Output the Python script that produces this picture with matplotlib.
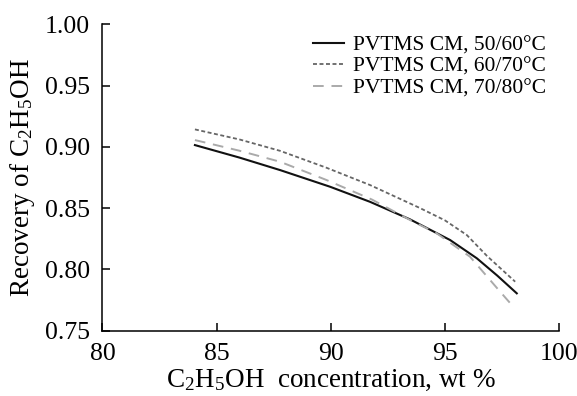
import matplotlib
matplotlib.use("Agg")
import matplotlib.pyplot as plt

plt.rcParams['font.family'] = ['Liberation Serif', 'DejaVu Serif']
plt.rcParams['mathtext.fontset'] = 'custom'
plt.rcParams['mathtext.rm'] = 'Liberation Serif'
plt.rcParams['mathtext.it'] = 'Liberation Serif:italic'

conc_50_60 = [84.05, 86.0, 87.78, 89.97, 91.72, 93.47, 95.23, 96.40, 97.30, 98.15]
rec_50_60 = [0.9014, 0.8912, 0.8810, 0.8674, 0.8551, 0.8408, 0.8239, 0.8090, 0.7948, 0.7804]
conc_60_70 = [84.05, 86.0, 87.78, 89.8, 91.72, 93.91, 95.0, 95.96, 96.84, 98.08]
rec_60_70 = [0.9142, 0.9060, 0.8967, 0.8830, 0.8688, 0.8500, 0.8400, 0.8280, 0.8110, 0.7899]
conc_70_80 = [84.05, 86.0, 87.78, 89.8, 91.8, 93.47, 94.64, 96.10, 97.27, 97.93]
rec_70_80 = [0.9055, 0.8968, 0.8878, 0.8730, 0.8570, 0.8403, 0.8294, 0.8103, 0.7850, 0.7709]
labels = ["PVTMS CM, 50/60°C", "PVTMS CM, 60/70°C", "PVTMS CM, 70/80°C"]

fig = plt.figure(figsize=(5.77, 3.96), dpi=100)
ax = fig.add_axes([0.1776, 0.1652, 0.7912, 0.7735])

ax.plot(conc_50_60, rec_50_60, color='#111111', lw=1.5, label=labels[0])
ax.plot(conc_60_70, rec_60_70, color='#666666', lw=1.3, dashes=(2.2, 1.4), label=labels[1])
ax.plot(conc_70_80, rec_70_80, color='#aaaaaa', lw=1.4, dashes=(5.5, 4), label=labels[2])

ax.set_xlim(80, 100)
ax.set_ylim(0.75, 1.00)
ax.set_xticks([80, 85, 90, 95, 100])
ax.set_yticks([0.75, 0.80, 0.85, 0.90, 0.95, 1.00])
ax.set_yticklabels(["0.75", "0.80", "0.85", "0.90", "0.95", "1.00"])
ax.spines['top'].set_visible(False)
ax.spines['right'].set_visible(False)
ax.spines['left'].set_linewidth(1.1)
ax.spines['bottom'].set_linewidth(1.1)
ax.tick_params(direction='in', length=6, width=1.1, labelsize=18.5, pad=9)
ax.set_xlabel("C$_2$H$_5$OH  concentration, wt %", fontsize=19.5, labelpad=2)
ax.set_ylabel("Recovery of C$_2$H$_5$OH", fontsize=19.5, labelpad=6)

ax.legend(loc='upper right', frameon=False, fontsize=15.5, handlelength=1.45,
          labelspacing=0.08, borderaxespad=0.1, handletextpad=0.42,
          bbox_to_anchor=(0.995, 1.0))

fig.savefig("out.png", dpi=100)
